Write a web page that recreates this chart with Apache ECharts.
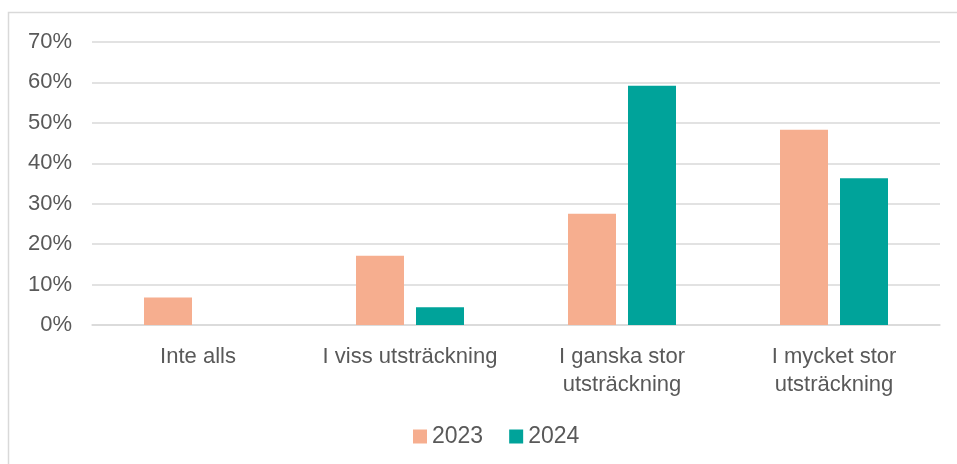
<!DOCTYPE html>
<html>
<head>
<meta charset="utf-8">
<script src="https://cdn.jsdelivr.net/npm/echarts@6/dist/echarts.min.js"></script>
<style>
  html, body { margin: 0; padding: 0; background: #fff; }
  #chart { width: 957px; height: 464px; }
</style>
</head>
<body>
<div id="chart"></div>
<script>
const categories = ['Inte alls', 'I viss utsträckning', 'I ganska stor\nutsträckning', 'I mycket stor\nutsträckning'];
const values2023 = [6.8, 17.1, 27.5, 48.3];
const values2024 = [null, 4.4, 59.2, 36.3];
const seriesNames = ['2023', '2024'];

const chart = echarts.init(document.getElementById('chart'));
const textColor = '#595959';
const fontFamily = '"Liberation Sans", Arial, sans-serif';

// ram runt diagrammet (bara vänster- och överkant syns)
const option = {
  animation: false,
  textStyle: { fontFamily: fontFamily },
  graphic: [{
    type: 'rect',
    shape: { x: 8.5, y: 12.5, width: 1200, height: 1000 },
    style: { fill: 'none', stroke: '#d9d9d9', lineWidth: 1.5 },
    silent: true
  }],
  grid: { left: 92, right: 17, top: 42, bottom: 139 },
  legend: {
    data: seriesNames,
    bottom: 11,
    left: 408,
    itemWidth: 14,
    itemHeight: 14,
    itemGap: 26,
    icon: 'rect',
    textStyle: { color: textColor, fontSize: 23, fontFamily: fontFamily }
  },
  xAxis: {
    type: 'category',
    data: categories,
    axisLine: { show: true, lineStyle: { color: '#d9d9d9', width: 1.5 } },
    axisTick: { show: false },
    axisLabel: { color: textColor, fontSize: 22, lineHeight: 28, margin: 18, interval: 0 }
  },
  yAxis: {
    type: 'value',
    min: 0,
    max: 70,
    interval: 10,
    axisLine: { show: false },
    axisTick: { show: false },
    splitLine: { lineStyle: { color: '#d9d9d9', width: 1.5 } },
    axisLabel: { color: textColor, fontSize: 22, margin: 20, formatter: '{value}%' }
  },
  series: [
    {
      name: seriesNames[0],
      type: 'bar',
      data: values2023,
      barWidth: 48,
      barGap: '25%',
      itemStyle: { color: '#f6ae8f' }
    },
    {
      name: seriesNames[1],
      type: 'bar',
      data: values2024,
      barWidth: 48,
      itemStyle: { color: '#00a39a' }
    }
  ]
};

chart.setOption(option);
window.addEventListener('resize', () => chart.resize());
</script>
</body>
</html>
